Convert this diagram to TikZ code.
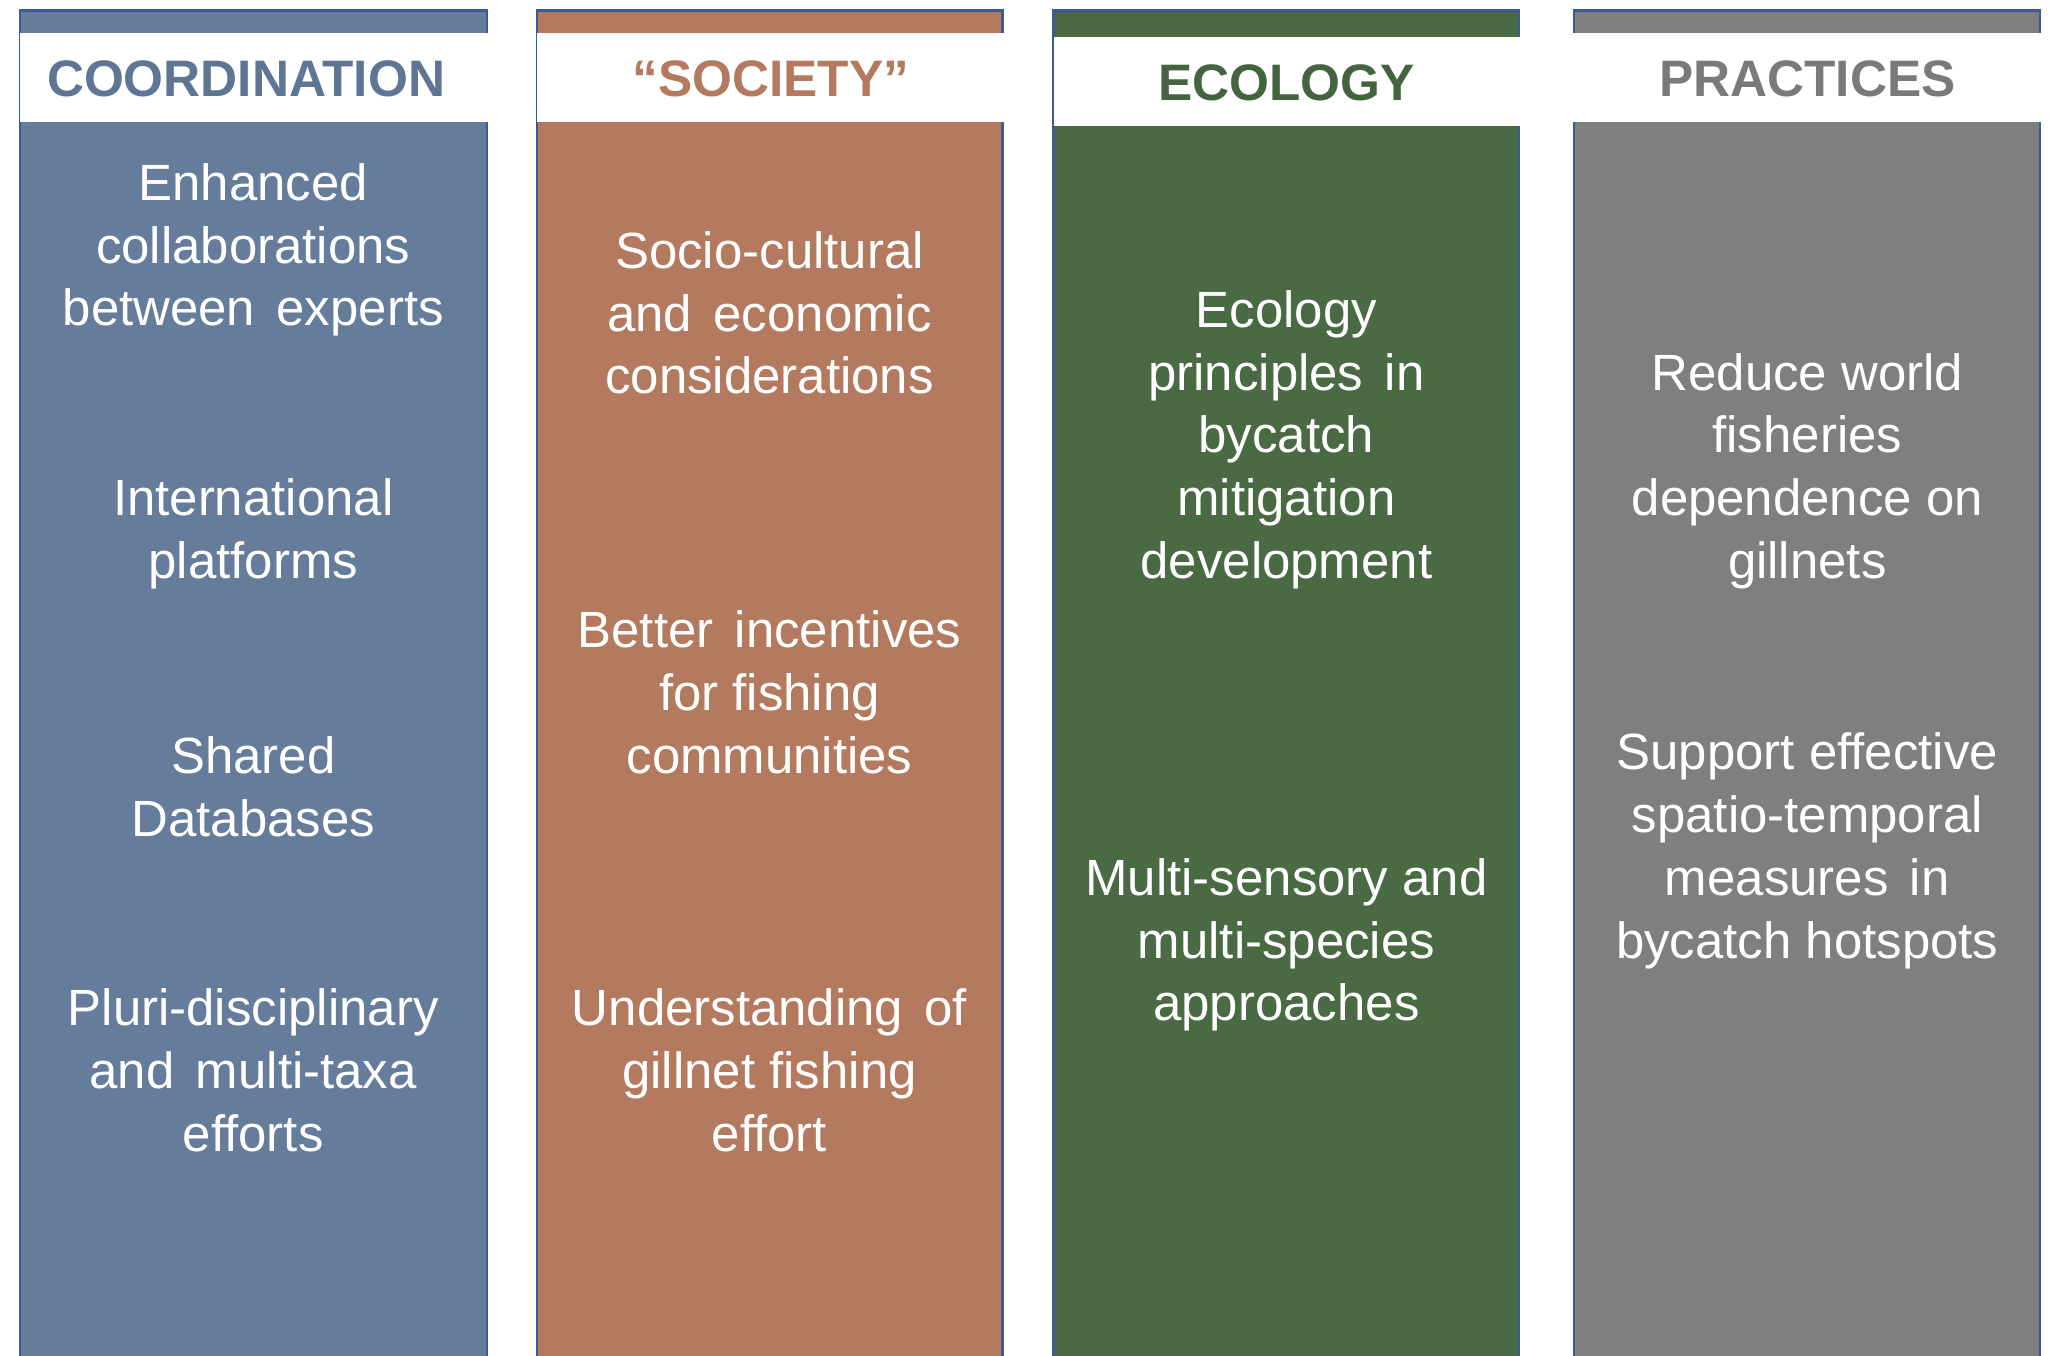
\documentclass[tikz,border=0pt]{standalone}
\usepackage{fontspec}
\setmainfont{Liberation Sans}
\definecolor{cblue}{HTML}{657D9B}
\definecolor{cterra}{HTML}{B47A5F}
\definecolor{cgreen}{HTML}{4A6A44}
\definecolor{cgray}{HTML}{7F7F7F}
\definecolor{tblue}{HTML}{5E7594}
\definecolor{tterra}{HTML}{B47A5F}
\definecolor{tgreen}{HTML}{44643F}
\definecolor{tgray}{HTML}{7A7A7A}
\definecolor{edgeblue}{HTML}{3A5A98}
\newcommand{\wsp}{\hspace{0.42em}}
\begin{document}
\begin{tikzpicture}[x=0.01309cm,y=-0.01309cm,
  colbox/.style={draw=edgeblue,line width=0.6pt},
  hdband/.style={fill=white},
  hdtext/.style={font=\fontsize{14.6pt}{17pt}\selectfont\bfseries,inner sep=0pt,anchor=center},
  bodytext/.style={font=\fontsize{14.5pt}{17.88pt}\selectfont,text=white,align=center,inner sep=0pt,anchor=center}]
\useasboundingbox (0,0) rectangle (1568,1036);
\fill[white] (0,0) rectangle (1568,1036);
\begin{scope}
\clip (0,0) rectangle (1568,1036);
% columns
\filldraw[colbox,fill=cblue]  (15,8) rectangle (372,1045);
\filldraw[colbox,fill=cterra] (410,8) rectangle (766,1045);
\filldraw[colbox,fill=cgreen] (805,8) rectangle (1161,1045);
\filldraw[colbox,fill=cgray]  (1203,8) rectangle (1559,1045);
% header bands
\fill[hdband] (15,25) rectangle (373,93);
\fill[hdband] (410,25) rectangle (767,93);
\fill[hdband] (805,28) rectangle (1162,96);
\fill[hdband] (1202,25) rectangle (1568,93);
\end{scope}
% headers
\node[hdtext,text=tblue]  (h1) at (188,60) {COORDINATION};
\node[hdtext,text=tterra] (h2) at (589,60) {“SOCIETY”};
\node[hdtext,text=tgreen] (h3) at (983,63) {ECOLOGY};
\node[hdtext,text=tgray]  (h4) at (1381,60) {PRACTICES};
% column 1
\node[bodytext] (a1) at (193.5,191) {Enhanced\\collaborations\\between\wsp experts};
\node[bodytext] (a2) at (193.5,408) {International\\platforms};
\node[bodytext] (a3) at (193.5,601) {Shared\\Databases};
\node[bodytext] (a4) at (193.5,818) {Pluri-disciplinary\\and\wsp multi-taxa\\efforts};
% column 2
\node[bodytext] (b1) at (588,239) {Socio-cultural\\and\wsp economic\\considerations};
\node[bodytext] (b2) at (588,529) {Better\wsp incentives\\for fishing\\communities};
\node[bodytext] (b3) at (588,818) {Understanding\wsp of\\gillnet fishing\\effort};
% column 3
\node[bodytext] (c1) at (983,336) {Ecology\\principles\wsp in\\bycatch\\mitigation\\development};
\node[bodytext] (c2) at (983,722) {Multi-sensory and\\multi-species\\approaches};
% column 4
\node[bodytext] (d1) at (1381,360) {Reduce world\\fisheries\\dependence on\\gillnets};
\node[bodytext] (d2) at (1381,650) {Support effective\\spatio-temporal\\measures\wsp in\\bycatch hotspots};
\end{tikzpicture}
\end{document}
